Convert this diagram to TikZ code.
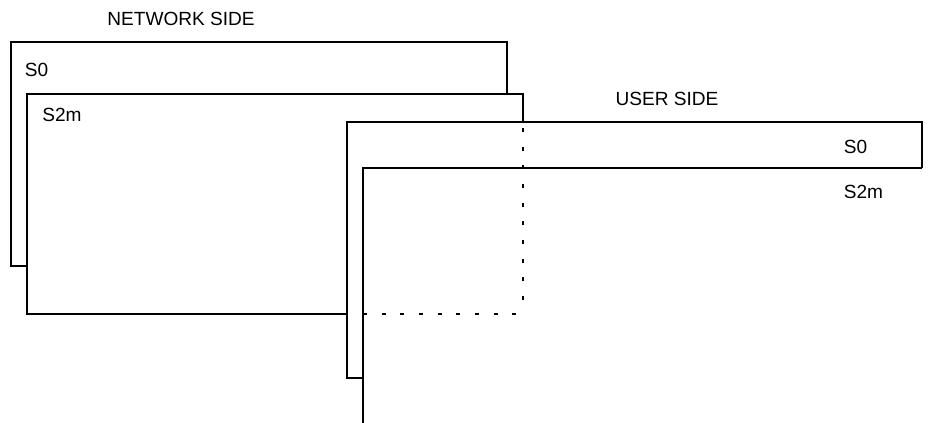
\documentclass[tikz,border=0pt]{standalone}
\usepackage{fontspec}
\setmainfont{Liberation Sans}
\usetikzlibrary{positioning}

\begin{document}
\begin{tikzpicture}[
  x=0.75pt, y=-0.75pt,
  %% Styles
  frame/.style={draw=black, line width=1.5pt, line join=miter},
  hidden/.style={draw=black, line width=1pt, dash pattern=on 3pt off 11pt},
  side/.style={inner sep=0pt, font=\fontsize{14.3}{17}\selectfont},
  slot/.style={inner sep=0pt, font=\fontsize{14.3}{17}\selectfont},
]
\useasboundingbox (0,0) rectangle (929,423);

%% ── LABELS ────────────────────────────────────────────────────────────────
\node[side] (net)    at (181, 19)    {NETWORK SIDE};
\node[slot] (ns0)    at (36.5, 70)   {S0};
\node[slot] (ns2m)   at (62, 115)    {S2m};
\node[side] (user)   at (667, 99)    {USER SIDE};
\node[slot] (us0)    at (855.5, 146.5) {S0};
\node[slot] (us2m)   at (863.5, 191.5) {S2m};

%% ── NETWORK SIDE FRAMES ───────────────────────────────────────────────────
%% S0 frame
\draw[frame] (27,266) -- (11,266) -- (11,42) -- (507,42) -- (507,94);
%% S2m frame
\draw[frame] (347,314) -- (27,314) -- (27,94) -- (523,94) -- (523,122);
%% S2m hidden part behind the user side
\draw[hidden] (523,128) -- (523,314);
\draw[hidden] (363,314) -- (523,314);

%% ── USER SIDE FRAMES ──────────────────────────────────────────────────────
%% S0 frame
\draw[frame] (363,378) -- (347,378) -- (347,122) -- (922,122) -- (922,168);
%% S2m frame
\draw[frame] (363,423) -- (363,168) -- (922,168);

\end{tikzpicture}
\end{document}
